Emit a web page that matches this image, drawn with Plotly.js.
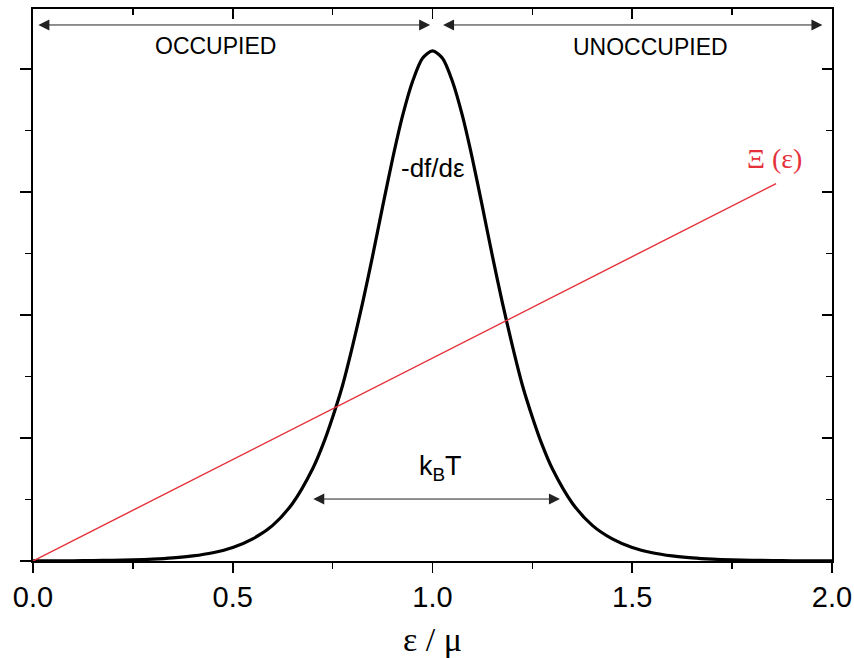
<!DOCTYPE html>
<html>
<head>
<meta charset="utf-8">
<script src="https://cdn.plot.ly/plotly-3.0.1.min.js"></script>
<style>body{margin:0;background:#fff}#chart{width:854px;height:658px}</style>
</head>
<body>
<div id="chart"></div>
<script>
// -df/dε curve
const energy = [0,0.05,0.1,0.15,0.2,0.25,0.3,0.35,0.4,0.45,0.5,0.55,0.6,0.65,0.7,0.725,0.75,0.775,0.8,0.825,0.85,0.875,0.9,0.925,0.95,0.975,1.0,
                1.025,1.05,1.075,1.1,1.125,1.15,1.175,1.2,1.225,1.25,1.275,1.3,1.35,1.4,1.45,1.5,1.55,1.6,1.65,1.7,1.75,1.8,1.85,1.9,1.95,2.0];
const dfde = [0.001,0.001,0.002,0.003,0.006,0.009,0.015,0.025,0.041,0.067,0.11,0.18,0.29,0.47,0.75,0.94,1.17,1.43,1.75,2.1,2.48,2.88,3.27,3.62,3.9,4.09,4.15,
              4.09,3.9,3.62,3.27,2.88,2.48,2.1,1.75,1.43,1.17,0.94,0.75,0.47,0.29,0.18,0.11,0.067,0.041,0.025,0.015,0.009,0.006,0.003,0.002,0.001,0.001];
// Ξ(ε) straight line
const xiX = [0, 1.86];
const xiY = [0, 3.07];
const xTicks = [0, 0.5, 1.0, 1.5, 2.0];
const xTickText = ['0.0', '0.5', '1.0', '1.5', '2.0'];

const red = '#e5303a';
const font = 'Liberation Sans, Arial, sans-serif';
const serif = 'Liberation Serif, Times New Roman, serif';

const traces = [
  {x: energy, y: dfde, type: 'scatter', mode: 'lines', line: {color: '#000', width: 3.2, shape: 'spline', smoothing: 0.8},
   xaxis: 'x', yaxis: 'y', hoverinfo: 'skip'},
  {x: xiX, y: xiY, type: 'scatter', mode: 'lines', line: {color: red, width: 1.4},
   xaxis: 'x2', yaxis: 'y2', hoverinfo: 'skip'}
];

const yr = [0, 4.49];
const layout = {
  width: 854, height: 658,
  margin: {l: 33, r: 22, t: 9, b: 97},
  paper_bgcolor: '#fff', plot_bgcolor: '#fff',
  showlegend: false,
  font: {family: font, color: '#000'},
  xaxis: {
    range: [0, 2], showgrid: false, zeroline: false,
    showline: true, linecolor: '#000', linewidth: 1.6,
    ticks: 'outside', ticklen: 10, tickwidth: 1.6, tickcolor: '#000',
    tickvals: xTicks, ticktext: xTickText,
    tickfont: {size: 29, family: font, color: '#000'},
    minor: {dtick: 0.25, ticks: 'outside', ticklen: 6, tickwidth: 1.4, tickcolor: '#000', showgrid: false},
    title: {text: 'ε / μ', font: {size: 34, family: serif, color: '#000'}, standoff: 18}
  },
  yaxis: {
    range: yr, showgrid: false, zeroline: false,
    showline: true, linecolor: '#000', linewidth: 1.6,
    ticks: 'outside', ticklen: 11, tickwidth: 1.6, tickcolor: '#000',
    dtick: 1, tick0: 0, showticklabels: false,
    minor: {dtick: 0.5, ticks: 'outside', ticklen: 6, tickwidth: 1.4, tickcolor: '#000', showgrid: false}
  },
  xaxis2: {
    overlaying: 'x', side: 'top', anchor: 'y2', range: [0, 2], showgrid: false, zeroline: false,
    showline: true, linecolor: '#000', linewidth: 1.6,
    ticks: 'inside', ticklen: 10, tickwidth: 1.6, tickcolor: '#000',
    tickvals: xTicks, showticklabels: false,
    minor: {dtick: 0.25, ticks: 'inside', ticklen: 6, tickwidth: 1.4, tickcolor: '#000', showgrid: false}
  },
  yaxis2: {
    overlaying: 'y', side: 'right', anchor: 'x2', range: yr, showgrid: false, zeroline: false,
    showline: true, linecolor: '#000', linewidth: 1.6,
    ticks: 'inside', ticklen: 10, tickwidth: 1.6, tickcolor: '#000',
    dtick: 1, tick0: 0, showticklabels: false,
    minor: {dtick: 0.5, ticks: 'inside', ticklen: 6, tickwidth: 1.4, tickcolor: '#000', showgrid: false}
  },
  annotations: [
    {x: 0.456, y: 4.19, xref: 'x', yref: 'y', text: 'OCCUPIED', showarrow: false,
     font: {size: 23, family: font, color: '#000'}},
    {x: 1.545, y: 4.18, xref: 'x', yref: 'y', text: 'UNOCCUPIED', showarrow: false,
     font: {size: 23, family: font, color: '#000'}},
    {x: 1.0, y: 3.2, xref: 'x', yref: 'y', text: '-df/dε', showarrow: false,
     font: {size: 26, family: font, color: '#000'}},
    {x: 1.02, y: 0.76, xref: 'x', yref: 'y', text: 'k<sub>B</sub>T', showarrow: false,
     font: {size: 27, family: font, color: '#000'}},
    {x: 1.856, y: 3.27, xref: 'x', yref: 'y', text: 'Ξ (ε)', showarrow: false,
     font: {size: 28, family: serif, color: red}},
    // arrows
    {x: 0.994, y: 4.36, ax: 0.006, ay: 4.36, xref: 'x', yref: 'y', axref: 'x', ayref: 'y', text: ' ',
     showarrow: true, arrowhead: 2, arrowside: 'end+start', arrowsize: 2.2, arrowwidth: 1, arrowcolor: '#222', standoff: 0, startstandoff: 0},
    {x: 1.976, y: 4.36, ax: 1.019, ay: 4.36, xref: 'x', yref: 'y', axref: 'x', ayref: 'y', text: ' ',
     showarrow: true, arrowhead: 2, arrowside: 'end+start', arrowsize: 2.2, arrowwidth: 1, arrowcolor: '#222', standoff: 0, startstandoff: 0},
    {x: 1.319, y: 0.504, ax: 0.694, ay: 0.504, xref: 'x', yref: 'y', axref: 'x', ayref: 'y', text: ' ',
     showarrow: true, arrowhead: 2, arrowside: 'end+start', arrowsize: 2.2, arrowwidth: 1, arrowcolor: '#222', standoff: 0, startstandoff: 0}
  ]
};

Plotly.newPlot('chart', traces, layout, {staticPlot: true, displayModeBar: false});
</script>
</body>
</html>
